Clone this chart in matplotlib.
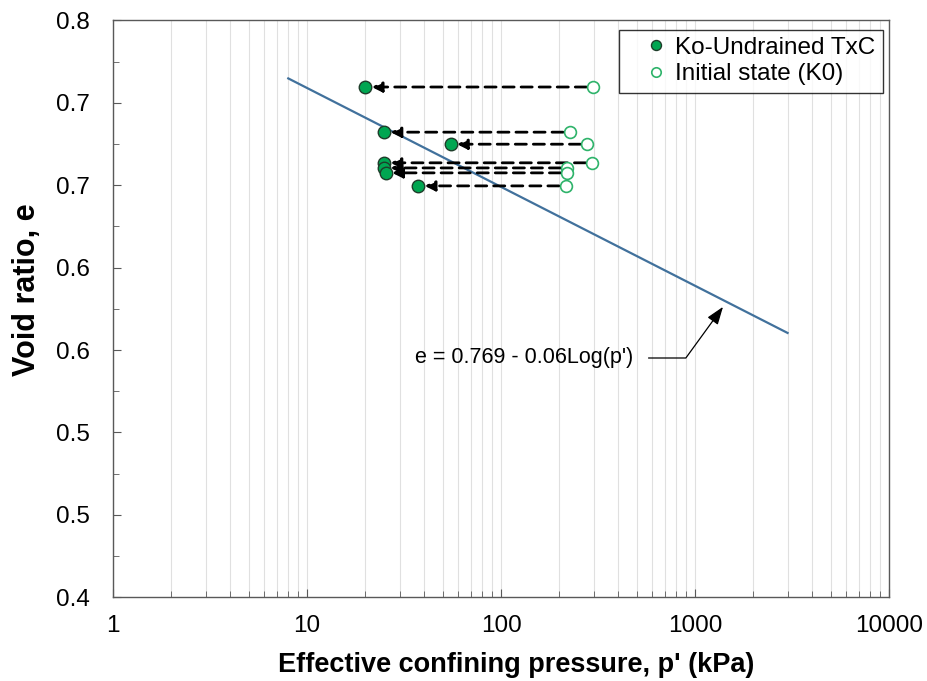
import numpy as np
import matplotlib.pyplot as plt
from matplotlib.ticker import FixedLocator, MultipleLocator, NullFormatter

plt.rcParams['font.family'] = ['Liberation Sans', 'DejaVu Sans']

# Ko-undrained triaxial tests: state after consolidation and initial (K0) state
p_test = [20, 25, 55, 25, 25, 25.5, 37.5]
p_init = [299, 227, 279, 296, 220, 220, 216]
e_void = [0.7096, 0.6822, 0.6749, 0.6636, 0.6605, 0.6575, 0.6496]

# fitted line e = 0.769 - 0.06 log(p')
fit_a = 0.769
fit_b = 0.06
fit_p = np.array([8, 3000])
fit_e = fit_a - fit_b * np.log10(fit_p)

y_ticks = [0.40, 0.45, 0.50, 0.55, 0.60, 0.65, 0.70, 0.75]
y_ticklabels = ['0.4', '0.5', '0.5', '0.6', '0.6', '0.7', '0.7', '0.8']
x_ticks = [1, 10, 100, 1000, 10000]
x_ticklabels = ['1', '10', '100', '1000', '10000']

fig = plt.figure(figsize=(9.27, 6.81), dpi=100)
ax = fig.add_axes([0.122, 0.123, 0.837, 0.847])

ax.set_xscale('log')
ax.set_xlim(1, 10000)
ax.set_ylim(0.40, 0.75)

ax.grid(True, which='both', axis='x', color='#e0e0e0', lw=0.8)
ax.set_axisbelow(True)

ax.plot(fit_p, fit_e, color='#41719c', lw=1.6, zorder=2)

# dashed arrows from initial state to tested state
for pi, pt, e in zip(p_init, p_test, e_void):
    ax.annotate('', xy=(pt, e), xytext=(pi, e),
                arrowprops=dict(arrowstyle='-|>,head_length=0.6,head_width=0.3',
                                linestyle=(0, (4, 2.5)), color='black', lw=2,
                                shrinkA=5, shrinkB=4.5),
                zorder=3)

ax.plot(p_test, e_void, 'o', ms=9, mfc='#00a651', mec='#1e3d2a', mew=1,
        ls='none', label='Ko-Undrained TxC', zorder=4)
ax.plot(p_init, e_void, 'o', ms=8.5, mfc='white', mec='#2eb36a', mew=1.2,
        ls='none', label='Initial state (K0)', zorder=4)

ax.annotate("e = 0.769 - 0.06Log(p')", xy=(1394, 0.5762), xytext=(415, 323),
            textcoords='figure pixels', fontsize=15.5, va='center', ha='left',
            xycoords='data',
            arrowprops=dict(arrowstyle='-|>,head_length=0.7,head_width=0.25',
                            color='black', lw=0.9,
                            connectionstyle='angle,angleA=0,angleB=54,rad=0',
                            shrinkA=9, shrinkB=0))

ax.xaxis.set_major_locator(FixedLocator(x_ticks))
ax.set_xticklabels(x_ticklabels)
ax.xaxis.set_minor_formatter(NullFormatter())
ax.yaxis.set_major_locator(FixedLocator(y_ticks))
ax.set_yticklabels(y_ticklabels)
ax.yaxis.set_minor_locator(MultipleLocator(0.025))

ax.tick_params(which='both', direction='in', labelsize=17.5, colors='#595959',
               labelcolor='black')
ax.tick_params(which='major', length=6)
ax.tick_params(which='minor', length=4)
ax.tick_params(axis='x', pad=13)
ax.tick_params(axis='y', pad=17)
for s in ax.spines.values():
    s.set_color('#595959')
    s.set_linewidth(1)

ax.set_xlabel("Effective confining pressure, p' (kPa)", fontsize=19.5,
              fontweight='bold')
ax.xaxis.set_label_coords(0.52, -0.095)
ax.set_ylabel('Void ratio, e', fontsize=22, fontweight='bold')
ax.yaxis.set_label_coords(-0.091, 0.533)

leg = ax.legend(loc='upper right', fontsize=17.5, frameon=True, fancybox=False,
                edgecolor='black', handletextpad=-0.4, borderpad=0.3,
                labelspacing=0.18, handlelength=2.4, markerscale=0.8,
                borderaxespad=0, bbox_to_anchor=(0.992, 0.984))
leg.get_frame().set_linewidth(1)

fig.savefig('out.png', dpi=100)
